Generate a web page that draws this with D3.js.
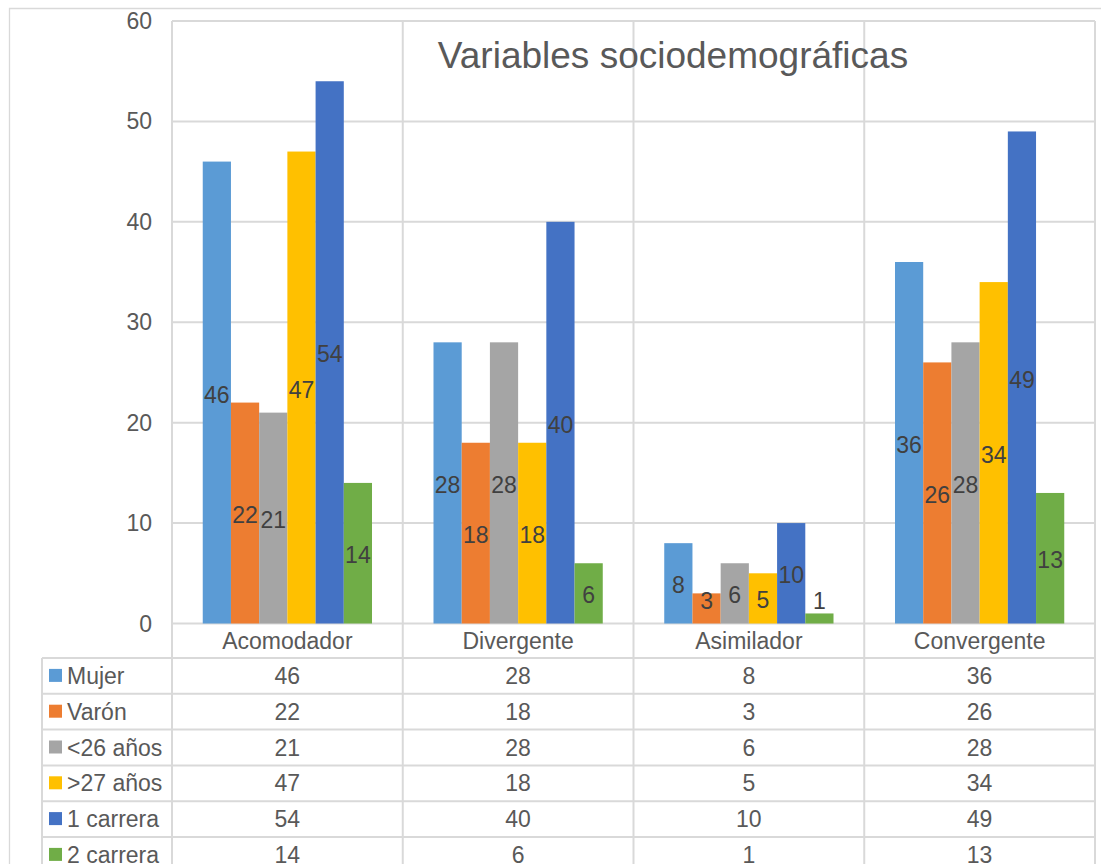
<!DOCTYPE html>
<html>
<head>
<meta charset="utf-8">
<script src="https://cdn.jsdelivr.net/npm/d3@7"></script>
<style>
  body { margin: 0; background: #fff; }
  text { font-family: Arial, "Liberation Sans", sans-serif; }
</style>
</head>
<body>
<div id="chart"></div>
<script>
// data
var categories = ["Acomodador", "Divergente", "Asimilador", "Convergente"]
var seriesNames = ["Mujer", "Varón", "<26 años", ">27 años", "1 carrera", "2 carrera"]
var mujer = [46, 28, 8, 36]
var varon = [22, 18, 3, 26]
var menor26 = [21, 28, 6, 28]
var mayor27 = [47, 18, 5, 34]
var carrera1 = [54, 40, 10, 49]
var carrera2 = [14, 6, 1, 13]
var yTicks = [0, 10, 20, 30, 40, 50, 60]
var colors = ["#5B9BD5", "#ED7D31", "#A5A5A5", "#FFC000", "#4472C4", "#70AD47"]
var title = "Variables sociodemográficas"

var seriesValues = [mujer, varon, menor26, mayor27, carrera1, carrera2]

var W = 1101, H = 864
var plotLeft = 172, plotRight = 1095, plotTop = 21, plotBottom = 623.5
var tableLeft = 42, headerBottom = 658, rowH = 35.8
var grid = "#D9D9D9", textCol = "#595959", labelCol = "#404040"

var svg = d3.select("#chart").append("svg")
  .attr("width", W)
  .attr("height", H)

// outer chart border
svg.append("path")
  .attr("d", "M9.5," + H + "V8.5H" + W)
  .attr("fill", "none")
  .attr("stroke", grid)
  .attr("stroke-width", 1.3)

var x = d3.scaleBand().domain(categories).range([plotLeft, plotRight]).paddingInner(0).paddingOuter(0)
var xs = d3.scaleBand().domain(d3.range(seriesNames.length)).range([0, x.bandwidth()])
  .paddingInner(0).paddingOuter(1.09)
var y = d3.scaleLinear().domain([0, 60]).range([plotBottom, plotTop])

// horizontal gridlines
svg.selectAll(".hgrid")
  .data(yTicks)
  .enter()
  .append("line")
  .attr("x1", plotLeft).attr("x2", plotRight)
  .attr("y1", function(d){ return y(d) }).attr("y2", function(d){ return y(d) })
  .attr("stroke", grid).attr("stroke-width", 2)

// vertical lines between categories, down through the table
var vx = categories.map(function(c){ return x(c) }).concat([plotRight])
svg.selectAll(".vgrid")
  .data(vx)
  .enter()
  .append("line")
  .attr("x1", function(d){ return d }).attr("x2", function(d){ return d })
  .attr("y1", plotTop).attr("y2", H)
  .attr("stroke", grid).attr("stroke-width", 2)

// table lines
svg.append("line")
  .attr("x1", tableLeft).attr("x2", tableLeft)
  .attr("y1", headerBottom).attr("y2", H)
  .attr("stroke", grid).attr("stroke-width", 2)
svg.selectAll(".trow")
  .data(d3.range(seriesNames.length + 1))
  .enter()
  .append("line")
  .attr("x1", tableLeft).attr("x2", plotRight)
  .attr("y1", function(i){ return headerBottom + i * rowH })
  .attr("y2", function(i){ return headerBottom + i * rowH })
  .attr("stroke", grid).attr("stroke-width", 2)

// y axis labels
svg.selectAll(".ytick")
  .data(yTicks)
  .enter()
  .append("text")
  .attr("x", 152)
  .attr("y", function(d){ return y(d) })
  .attr("dy", "0.35em")
  .attr("text-anchor", "end")
  .attr("font-size", 23)
  .attr("fill", textCol)
  .text(function(d){ return d })

// bars
seriesValues.forEach(function(vals, s){
  var g = svg.append("g")
  g.selectAll("rect")
    .data(vals)
    .enter()
    .append("rect")
    .attr("x", function(d, i){ return x(categories[i]) + xs(s) })
    .attr("y", function(d){ return y(d) })
    .attr("width", xs.bandwidth())
    .attr("height", function(d){ return y(0) - y(d) })
    .attr("fill", colors[s])

  g.selectAll("text")
    .data(vals)
    .enter()
    .append("text")
    .attr("x", function(d, i){ return x(categories[i]) + xs(s) + xs.bandwidth() / 2 })
    .attr("y", function(d){ return Math.min((y(d) + y(0)) / 2 + 2, 601) })
    .attr("dy", "0.35em")
    .attr("text-anchor", "middle")
    .attr("font-size", 23)
    .attr("fill", labelCol)
    .text(function(d){ return d })
})

// category labels
svg.selectAll(".cat")
  .data(categories)
  .enter()
  .append("text")
  .attr("x", function(d){ return x(d) + x.bandwidth() / 2 })
  .attr("y", 641)
  .attr("dy", "0.35em")
  .attr("text-anchor", "middle")
  .attr("font-size", 23)
  .attr("fill", textCol)
  .text(function(d){ return d })

// data table rows
seriesNames.forEach(function(name, s){
  var cy = headerBottom + rowH * (s + 0.5)
  svg.append("rect")
    .attr("x", 49).attr("y", cy - 7)
    .attr("width", 13).attr("height", 13)
    .attr("fill", colors[s])
  svg.append("text")
    .attr("x", 67).attr("y", cy)
    .attr("dy", "0.35em")
    .attr("font-size", 23)
    .attr("fill", textCol)
    .text(name)
  svg.append("g").selectAll("text")
    .data(seriesValues[s])
    .enter()
    .append("text")
    .attr("x", function(d, i){ return x(categories[i]) + x.bandwidth() / 2 })
    .attr("y", cy)
    .attr("dy", "0.35em")
    .attr("text-anchor", "middle")
    .attr("font-size", 23)
    .attr("fill", textCol)
    .text(function(d){ return d })
})

// title
svg.append("text")
  .attr("x", 673)
  .attr("y", 55)
  .attr("dy", "0.35em")
  .attr("text-anchor", "middle")
  .attr("font-size", 37)
  .attr("fill", textCol)
  .text(title)
</script>
</body>
</html>
